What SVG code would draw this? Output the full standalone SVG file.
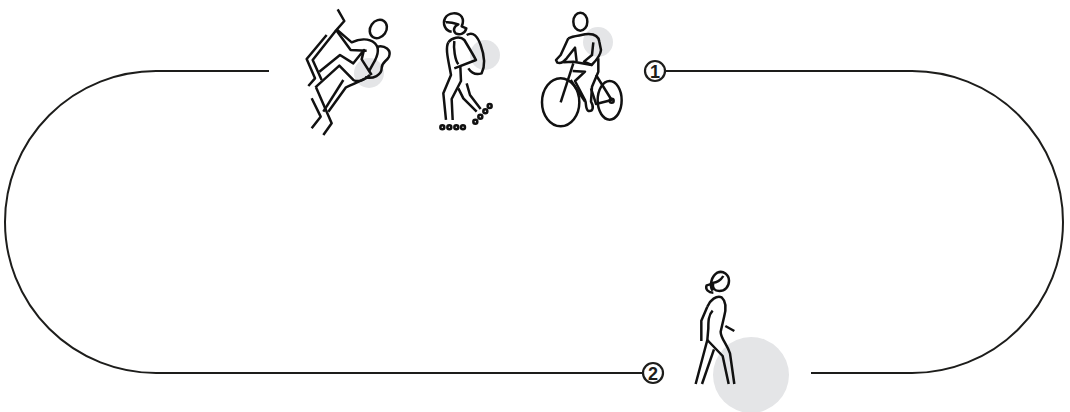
<svg xmlns="http://www.w3.org/2000/svg" width="1070" height="412" viewBox="0 0 1070 412">
<style>
.loop{fill:none;stroke:#1d1d1b;stroke-width:2}
.bg{fill:#e4e5e7}
.fig{fill:none;stroke:#111;stroke-width:7.5;stroke-linejoin:round}
.badge{fill:#fff;stroke:#1d1d1b;stroke-width:2.2}
.num{font-family:"Liberation Sans",Arial,sans-serif;font-size:18px;font-weight:700;fill:#1d1d1b;text-anchor:middle}
</style>
<g id="connectors">
<path class="loop" d="M269,71H156A151,151 0 0 0 156,373H643"/>
<path class="loop" d="M665,71H912A151,151 0 0 1 912,373H811"/>
</g>
<g id="climber">
<circle class="bg" cx="369" cy="73" r="15"/>
<g transform="translate(290,0) scale(.3333)">
<path class="fig" d="M143,28L163,63L135,95L68,180L95,240"/>
<path class="fig" d="M110,105L50,177L75,235L55,258"/>
<path class="fig" d="M140,88L185,127C205,118 235,112 255,130C270,145 262,170 250,190L238,212"/>
<path class="fig" d="M140,92L182,150L230,152"/>
<path class="fig" d="M88,215L150,165L190,190L222,150L215,178L245,225"/>
<path class="fig" d="M76,262L148,197L190,240C205,248 225,240 240,225"/>
<path class="fig" d="M78,262L125,370L100,405"/>
<path class="fig" d="M65,295L92,350L65,385"/>
<path class="fig" d="M100,335L160,240"/>
<path class="fig" d="M115,335L168,262C185,255 200,248 225,236"/>
<path class="fig" d="M262,140C285,135 305,150 297,170C290,185 275,185 275,205C275,225 250,238 225,232"/>
<ellipse class="fig" cx="265" cy="87" rx="24" ry="29" transform="rotate(35 265 87)"/>
</g>
</g>
<g id="skater">
<circle class="bg" cx="485" cy="55" r="15"/>
<g transform="translate(425,5) scale(.3333)">
<path class="fig" d="M80,80C60,78 52,55 60,40C70,22 98,20 110,35C116,45 113,58 110,64L124,70C120,85 105,92 92,85C84,78 85,65 100,58C90,55 70,50 62,52"/>
<path class="fig" d="M70,112C80,98 105,92 118,105C130,125 145,150 153,165L88,190"/>
<path class="fig" d="M70,112C60,130 70,165 78,210L55,265L63,345"/>
<path class="fig" d="M88,108C85,130 90,165 100,178"/>
<path class="fig" d="M125,90C145,78 158,95 167,120C178,150 182,180 170,205C155,210 140,205 130,190"/>
<path class="fig" d="M106,185L108,228L80,282L83,345"/>
<path class="fig" d="M100,250L115,280L155,320"/>
<path class="fig" d="M125,235L135,270L167,312"/>
<circle class="fig" cx="52" cy="367" r="6"/><circle class="fig" cx="73" cy="367" r="6"/><circle class="fig" cx="94" cy="367" r="6"/><circle class="fig" cx="114" cy="367" r="6"/><circle class="fig" cx="151" cy="350" r="6"/><circle class="fig" cx="166" cy="335" r="6"/><circle class="fig" cx="181" cy="319" r="6"/><circle class="fig" cx="194" cy="303" r="6"/>
</g>
</g>
<g id="cyclist">
<circle class="bg" cx="598" cy="42" r="15"/>
<g transform="translate(530,5) scale(.3333)">
<ellipse class="fig" cx="151" cy="50" rx="21" ry="27"/>
<path class="fig" d="M115,100C130,92 150,92 165,88C190,85 205,90 208,110L213,135C212,150 200,165 185,180L162,170L186,150L190,112"/>
<path class="fig" d="M115,100L92,150L78,165L82,173C92,177 100,172 110,160L135,128L140,170"/>
<path class="fig" d="M100,172L130,170L185,180"/>
<path class="fig" d="M205,160L205,200L186,245L183,290C192,305 190,320 175,318C165,312 170,295 165,285L135,228L165,200L128,198"/>
<path class="fig" d="M130,175L92,292"/>
<path class="fig" d="M122,225L165,290"/>
<path class="fig" d="M198,210L245,285L198,297L183,250"/>
<ellipse class="fig" cx="92" cy="292" rx="56" ry="72"/>
<ellipse class="fig" cx="239" cy="286" rx="36" ry="58"/>
<circle class="fig" cx="245" cy="287" r="6"/>
</g>
</g>
<g id="marker-1">
<circle class="badge" cx="655" cy="71" r="10"/>
<text class="num" x="655" y="77.5">1</text>
</g>
<g id="walker">
<circle class="bg" cx="751" cy="375" r="38"/>
<g transform="translate(630,260) scale(.3333)">
<path class="fig" d="M248,92C236,75 246,48 262,38C280,30 297,45 297,62C297,80 285,93 268,93C255,93 245,85 250,68C258,68 272,62 280,48"/>
<path class="fig" d="M250,70L230,76C225,88 235,98 250,98"/>
<path class="fig" d="M232,140C240,120 260,105 275,112C290,125 288,150 282,172L272,215C272,235 290,250 300,280L313,372"/>
<path class="fig" d="M232,140L214,182L214,243"/>
<path class="fig" d="M248,152C235,165 235,185 235,205L232,240L197,372"/>
<path class="fig" d="M232,240L278,288L296,372"/>
<path class="fig" d="M252,268L216,372"/>
<path class="fig" d="M286,198L313,213"/>
</g>
</g>
<g id="marker-2">
<circle class="badge" cx="653" cy="373" r="10"/>
<text class="num" x="653" y="379.5">2</text>
</g>
</svg>
